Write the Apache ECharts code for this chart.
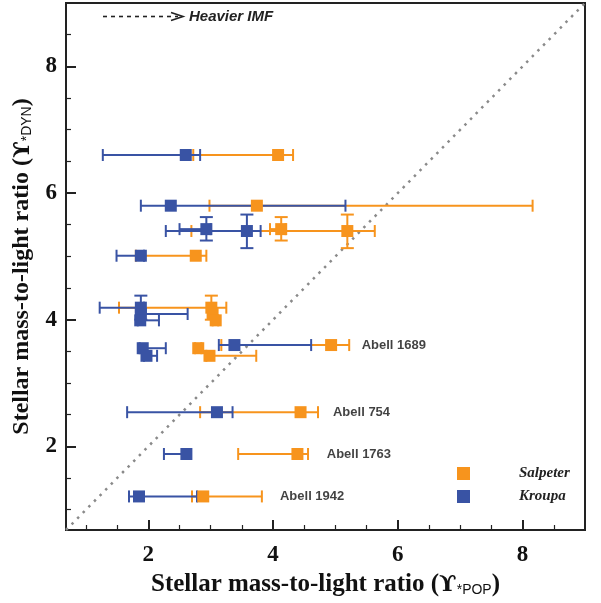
<!DOCTYPE html>
<html>
<head>
<meta charset="utf-8">
<script src="https://cdn.jsdelivr.net/npm/echarts@6/dist/echarts.min.js"></script>
<style>html,body{margin:0;padding:0;background:#fff}#c{width:601px;height:603px}</style>
</head>
<body>
<div id="c"></div>
<script>
// ---- data ----
const AXIS_MIN = 0.68, AXIS_MAX = 9;
const X_MAJOR = [2, 4, 6, 8];
const X_MINOR = [1, 1.5, 2.5, 3, 3.5, 4.5, 5, 5.5, 6.5, 7, 7.5, 8.5];
const Y_MAJOR = [2, 4, 6, 8];
const Y_MINOR = [1, 1.5, 2.5, 3, 3.5, 4.5, 5, 5.5, 6.5, 7, 7.5, 8.5];

// dynamical M/L (shared by both IMFs)
const dynY    = [6.60, 5.80, 5.43, 5.40, 5.01, 4.19, 4.09, 3.99, 3.55, 3.43, 3.60, 2.54, 1.88, 1.21];
const dynYLo  = [null, null, 5.25, 5.13, null, 4.00, null, null, null, null, null, null, null, null];
const dynYHi  = [null, null, 5.62, 5.66, null, 4.38, null, null, null, null, null, null, null, null];
// Salpeter stellar-population M/L
const salpX   = [4.08, 3.74, 4.13, 5.19, 2.76, 3.01, 3.03, 3.08, 2.80, 2.98, 4.93, 4.44, 4.39, 2.88];
const salpXLo = [2.72, 2.98, 3.95, 2.69, 1.80, 1.53, 2.98, 3.03, 2.75, 2.93, 3.17, 2.83, 3.44, 2.70];
const salpXHi = [4.32, 8.16, 4.20, 5.63, 2.93, 3.25, 3.08, 3.12, 2.85, 3.73, 5.22, 4.72, 4.56, 3.82];
// Kroupa stellar-population M/L
const kroX    = [2.60, 2.36, 2.93, 3.58, 1.88, 1.88, 1.88, 1.87, 1.91, 1.97, 3.38, 3.10, 2.61, 1.85];
const kroXLo  = [1.27, 1.88, 2.50, 2.28, 1.49, 1.22, 1.83, 1.83, 1.86, 1.93, 3.13, 1.66, 2.25, 1.69];
const kroXHi  = [2.83, 5.16, 3.00, 3.80, 1.93, 1.93, 2.63, 2.17, 2.28, 2.14, 4.61, 3.35, 2.65, 2.78];

const clusterNames = ['Abell 1689', 'Abell 754', 'Abell 1763', 'Abell 1942'];
const clusterLabelX = [5.42, 4.96, 4.86, 4.11];
const clusterLabelY = [3.60, 2.54, 1.88, 1.21];

const COL_SALP = '#F7941D';
const COL_KRO = '#3953A4';
const AXIS_COL = '#222';

function build(xs, lo, hi) {
  return xs.map((x, i) => [x, dynY[i], lo[i], hi[i],
    dynYLo[i] == null ? dynY[i] : dynYLo[i],
    dynYHi[i] == null ? dynY[i] : dynYHi[i]]);
}
const salpData = build(salpX, salpXLo, salpXHi);
const kroData = build(kroX, kroXLo, kroXHi);

function errRenderer(color) {
  return function (params, api) {
    const x = api.value(0), y = api.value(1);
    const xlo = api.value(2), xhi = api.value(3), ylo = api.value(4), yhi = api.value(5);
    const pl = api.coord([xlo, y]), ph = api.coord([xhi, y]);
    const st = { stroke: color, lineWidth: 2 };
    const ch = [
      { type: 'line', shape: { x1: pl[0], y1: pl[1], x2: ph[0], y2: ph[1] }, style: st },
      { type: 'line', shape: { x1: pl[0], y1: pl[1] - 6, x2: pl[0], y2: pl[1] + 6 }, style: st },
      { type: 'line', shape: { x1: ph[0], y1: ph[1] - 6, x2: ph[0], y2: ph[1] + 6 }, style: st }
    ];
    if (ylo !== yhi) {
      const vl = api.coord([x, ylo]), vh = api.coord([x, yhi]);
      ch.push({ type: 'line', shape: { x1: vl[0], y1: vl[1], x2: vh[0], y2: vh[1] }, style: st });
      ch.push({ type: 'line', shape: { x1: vl[0] - 6.5, y1: vl[1], x2: vl[0] + 6.5, y2: vl[1] }, style: st });
      ch.push({ type: 'line', shape: { x1: vh[0] - 6.5, y1: vh[1], x2: vh[0] + 6.5, y2: vh[1] }, style: st });
    }
    return { type: 'group', children: ch };
  };
}

const serif = '"Liberation Serif", "DejaVu Serif", "Times New Roman", serif';
const sans = '"Liberation Sans", Arial, sans-serif';

function nameRich(size) {
  return {
    t: { fontFamily: serif, fontWeight: 'bold', fontSize: size, color: '#111', verticalAlign: 'bottom' },
    u: { fontFamily: '"DejaVu Serif", serif', fontWeight: 'bold', fontSize: size - 2, color: '#111', verticalAlign: 'bottom' },
    s: { fontFamily: sans, fontWeight: 'normal', fontSize: 14, color: '#111', verticalAlign: 'bottom' }
  };
}

const chart = echarts.init(document.getElementById('c'), null, { renderer: 'canvas' });
chart.setOption({
  animation: false,
  backgroundColor: '#fff',
  grid: { left: 66, right: 16, top: 3, bottom: 73, show: true, borderColor: AXIS_COL, borderWidth: 2 },
  xAxis: [
    {
      type: 'value', min: AXIS_MIN, max: AXIS_MAX, position: 'bottom',
      axisLine: { show: true, lineStyle: { color: AXIS_COL, width: 2 } },
      axisTick: { show: true, inside: true, length: 10, customValues: X_MAJOR, lineStyle: { color: AXIS_COL, width: 2 } },
      axisLabel: { customValues: X_MAJOR, margin: 14, fontFamily: serif, fontWeight: 'bold', fontSize: 23, color: '#111' },
      splitLine: { show: false },
      name: '{t|Stellar mass-to-light ratio (}{u|ϒ}{s|*POP}{t|)}',
      nameLocation: 'middle', nameGap: 42,
      nameTextStyle: { rich: nameRich(25) }
    },
    {
      type: 'value', min: AXIS_MIN, max: AXIS_MAX, position: 'bottom',
      axisLine: { show: false },
      axisTick: { show: true, inside: true, length: 5, customValues: X_MINOR, lineStyle: { color: AXIS_COL, width: 1.2 } },
      axisLabel: { show: false }, splitLine: { show: false }
    }
  ],
  yAxis: [
    {
      type: 'value', min: AXIS_MIN, max: AXIS_MAX, position: 'left',
      axisLine: { show: true, lineStyle: { color: AXIS_COL, width: 2 } },
      axisTick: { show: true, inside: true, length: 10, customValues: Y_MAJOR, lineStyle: { color: AXIS_COL, width: 2 } },
      axisLabel: { customValues: Y_MAJOR, margin: 9, fontFamily: serif, fontWeight: 'bold', fontSize: 23, color: '#111' },
      splitLine: { show: false },
      name: '{t|Stellar mass-to-light ratio (}{u|ϒ}{s|*DYN}{t|)}',
      nameLocation: 'middle', nameGap: 32, nameRotate: 90,
      nameTextStyle: { rich: nameRich(24) }
    },
    {
      type: 'value', min: AXIS_MIN, max: AXIS_MAX, position: 'left',
      axisLine: { show: false },
      axisTick: { show: true, inside: true, length: 5, customValues: Y_MINOR, lineStyle: { color: AXIS_COL, width: 1.2 } },
      axisLabel: { show: false }, splitLine: { show: false }
    }
  ],
  legend: {
    orient: 'vertical', left: 452, top: 461, itemGap: 8,
    itemWidth: 13, itemHeight: 13, icon: 'rect',
    data: ['Salpeter', 'Kroupa'],
    textStyle: { fontFamily: serif, fontStyle: 'italic', fontWeight: 'bold', fontSize: 15, color: '#222', padding: [0, 0, 0, 44] }
  },
  graphic: [
    { type: 'line', shape: { x1: 103, y1: 16.5, x2: 178, y2: 16.5 }, style: { stroke: '#222', lineWidth: 1.6, lineDash: [4, 4] } },
    { type: 'polyline', shape: { points: [[171, 12.5], [183, 16.5], [171, 20.5]] }, style: { stroke: '#222', lineWidth: 1.6, fill: null } },
    { type: 'text', left: 189, top: 9, style: { text: 'Heavier IMF', font: 'italic bold 15px "Liberation Sans"', fill: '#222' } }
  ],
  series: [
    {
      type: 'line', name: 'one-to-one', silent: true, symbol: 'none', z: 1,
      data: [[AXIS_MIN, AXIS_MIN], [AXIS_MAX, AXIS_MAX]],
      lineStyle: { color: '#8a8a8a', width: 2.5, type: [2.5, 5.5] }
    },
    { type: 'custom', name: 'Salpeter err', renderItem: errRenderer(COL_SALP), data: salpData, z: 2, silent: true },
    { type: 'custom', name: 'Kroupa err', renderItem: errRenderer(COL_KRO), data: kroData, z: 3, silent: true },
    { type: 'scatter', name: 'Salpeter', symbol: 'rect', symbolSize: 12, itemStyle: { color: COL_SALP, opacity: 1 }, data: salpData.map(d => [d[0], d[1]]), z: 4 },
    { type: 'scatter', name: 'Kroupa', symbol: 'rect', symbolSize: 12, itemStyle: { color: COL_KRO, opacity: 1 }, data: kroData.map(d => [d[0], d[1]]), z: 5 },
    {
      type: 'scatter', name: 'labels', symbolSize: 0, silent: true, z: 6,
      data: clusterNames.map((n, i) => ({ value: [clusterLabelX[i], clusterLabelY[i]], name: n })),
      label: { show: true, position: 'right', distance: 0, formatter: p => p.name, fontFamily: sans, fontWeight: 'bold', fontSize: 13, color: '#111' }
    }
  ]
});
</script>
</body>
</html>
